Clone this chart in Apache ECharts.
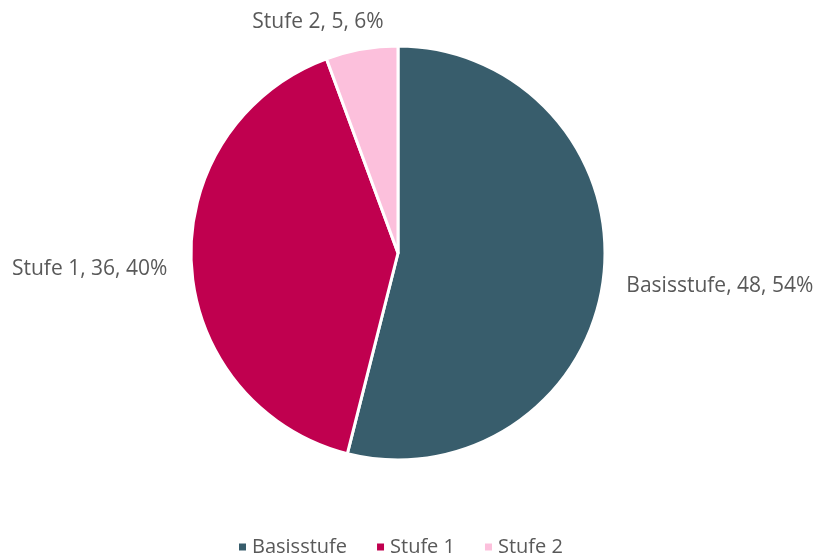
<!DOCTYPE html>
<html><head><meta charset="utf-8">
<script src="https://cdn.jsdelivr.net/npm/echarts@6/dist/echarts.min.js"></script>
<style>html,body{margin:0;padding:0;background:#fff}#c{width:813px;height:555px}</style>
</head><body><div id="c"></div>
<script>
const categories = ['Basisstufe', 'Stufe 1', 'Stufe 2'];
const values = [48, 36, 5];
const colors = ['#385d6c', '#c0004f', '#fcc0dc'];

const total = values.reduce((a, b) => a + b, 0);
const labelShift = [[-2, 6], [1, 5], [0, -17]];
const chart = echarts.init(document.getElementById('c'));
chart.setOption({
  animation: false,
  textStyle: { fontFamily: 'Open Sans' },
  legend: {
    top: 532,
    left: 232,
    itemWidth: 9, itemHeight: 9, itemGap: 28,
    icon: 'rect',
    textStyle: { fontSize: 20, color: '#595959', fontFamily: 'Open Sans' },
    data: categories
  },
  series: [{
    type: 'pie',
    center: [398, 253],
    radius: [0, 207],
    startAngle: 90,
    clockwise: true,
    itemStyle: { borderColor: '#fff', borderWidth: 3 },
    label: {
      show: true,
      position: 'outside',
      alignTo: 'none',
      overflow: 'none',
      fontSize: 21,
      color: '#595959',
      fontFamily: 'Open Sans',
      formatter: p => p.name + ', ' + p.value + ', ' + Math.round(p.value / total * 100) + '%'
    },
    labelLine: { show: false, length: 10, length2: 10 },
    labelLayout: p => {
      const s = labelShift[p.dataIndex];
      if (p.dataIndex === 2) {
        return { x: 318, y: p.labelRect.y + p.labelRect.height / 2 + s[1], align: 'center', verticalAlign: 'middle' };
      }
      return { dx: s[0], dy: s[1] };
    },
    data: categories.map((n, i) => ({ name: n, value: values[i], itemStyle: { color: colors[i] } }))
  }]
});
</script></body></html>
